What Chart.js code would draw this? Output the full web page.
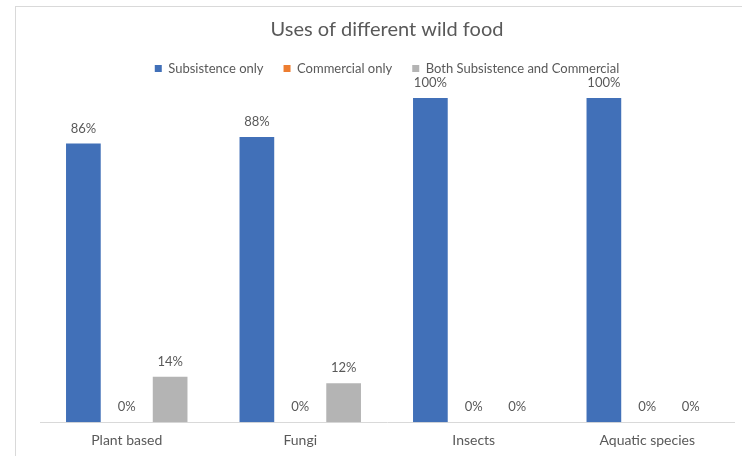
<!DOCTYPE html>
<html>
<head>
<meta charset="utf-8">
<script src="https://cdn.jsdelivr.net/npm/chart.js@4"></script>
<style>
  html, body { margin: 0; padding: 0; background: #fff; overflow: hidden; }
  #frame { position: absolute; left: 15px; top: 6px; width: 740px; height: 460px; border: 1px solid #d9d9d9; }
  #wrap { position: absolute; left: 0; top: 0; width: 727px; height: 452px; }
</style>
</head>
<body>
<div id="frame"><div id="wrap"><canvas id="useChart"></canvas></div></div>
<script>
const categories = ['Plant based', 'Fungi', 'Insects', 'Aquatic species'];
const subsistence = [86, 88, 100, 100];
const commercial = [0, 0, 0, 0];
const both = [14, 12, 0, 0];

const textColor = '#595959';
const fontFamily = 'Lato, "Open Sans", sans-serif';

// draws the % labels on top of every bar
const barLabels = {
  id: 'barLabels',
  afterDatasetsDraw(chart) {
    const ctx = chart.ctx;
    ctx.save();
    ctx.font = '13px ' + fontFamily;
    ctx.fillStyle = textColor;
    ctx.textAlign = 'center';
    ctx.textBaseline = 'middle';
    chart.data.datasets.forEach((ds, i) => {
      const meta = chart.getDatasetMeta(i);
      meta.data.forEach((bar, j) => {
        ctx.fillText(ds.data[j] + '%', bar.x, bar.y - 15);
      });
    });
    ctx.restore();
  }
};

// extra room under the legend
const legendGap = {
  id: 'legendGap',
  beforeInit(chart) {
    const fit = chart.legend.fit;
    chart.legend.fit = function () {
      fit.bind(this)();
      this.height += 13;
    };
  }
};

const ctx = document.getElementById('useChart').getContext('2d');
new Chart(ctx, {
  type: 'bar',
  data: {
    labels: categories,
    datasets: [
      { label: 'Subsistence only', data: subsistence, backgroundColor: '#4170b8' },
      { label: 'Commercial only', data: commercial, backgroundColor: '#ed7d31' },
      { label: 'Both Subsistence and Commercial', data: both, backgroundColor: '#b4b4b4' }
    ]
  },
  options: {
    responsive: true,
    maintainAspectRatio: false,
    animation: false,
    categoryPercentage: 0.75,
    barPercentage: 0.8,
    layout: { padding: { left: 24, right: 9, top: 8, bottom: 0 } },
    plugins: {
      title: {
        display: true,
        text: 'Uses of different wild food',
        color: textColor,
        font: { family: fontFamily, size: 20, weight: 'normal' },
        padding: { top: 3, bottom: 0 }
      },
      legend: {
        labels: {
          boxWidth: 7,
          boxHeight: 7,
          color: textColor,
          font: { family: fontFamily, size: 13 },
          padding: 20
        }
      },
      tooltip: { enabled: false }
    },
    scales: {
      x: {
        grid: { display: false, drawTicks: false },
        border: { color: '#d9d9d9' },
        ticks: { color: textColor, font: { family: fontFamily, size: 14 }, padding: 10 }
      },
      y: {
        display: false,
        min: 0,
        max: 100
      }
    }
  },
  plugins: [barLabels, legendGap]
});
</script>
</body>
</html>
